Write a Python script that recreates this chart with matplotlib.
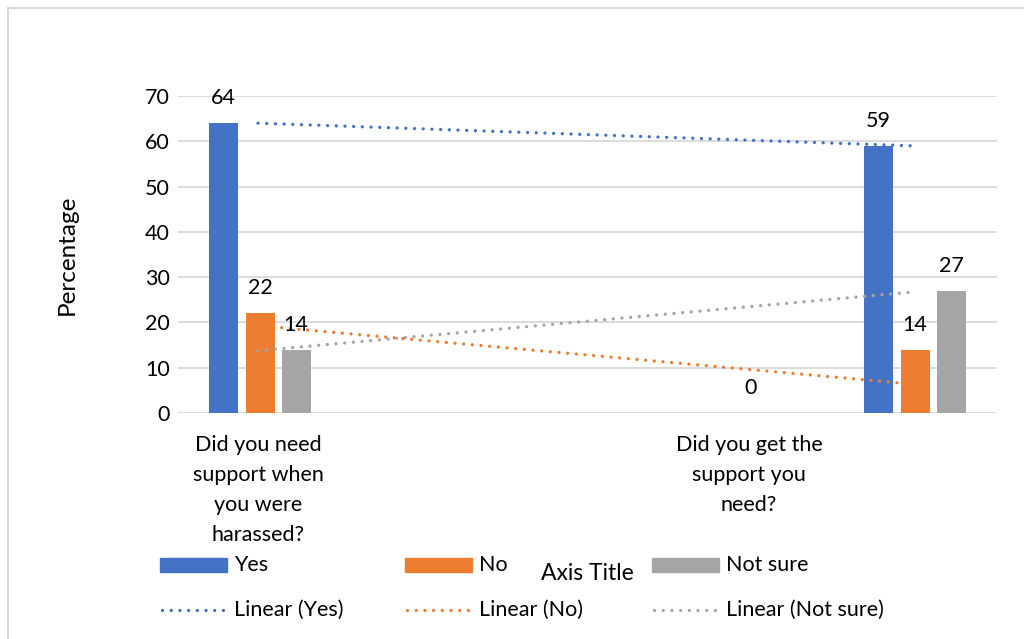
import matplotlib
matplotlib.use("Agg")
import matplotlib.pyplot as plt
from matplotlib.patches import Rectangle
from matplotlib.lines import Line2D

plt.rcParams['font.family'] = ['Lato', 'DejaVu Sans']

# ---- data ----
categories = ["Did you need\nsupport when\nyou were\nharassed?", "Did you get the\nsupport you\nneed?"]
series_names = ["Yes", "No", "Not sure"]
yes_vals = [64, 59]
no_vals = [22, 14]
notsure_vals = [14, 27]
stray_label_val = 0  # stray "0" data label shown in the chart
# trendline endpoints (start, end)
trend_yes = [64.0, 59.0]
trend_no = [19.0, 6.6]
trend_notsure = [13.75, 26.7]
yticks = [0, 10, 20, 30, 40, 50, 60, 70]

colors = ["#4472C4", "#ED7D31", "#A5A5A5"]
W, H = 1024, 639
fig = plt.figure(figsize=(W / 100, H / 100), dpi=100)

# plot area in pixels
L, R, T, B = 178, 997, 96, 413
ax = fig.add_axes([L / W, 1 - B / H, (R - L) / W, (B - T) / H])
ax.set_xlim(0, R - L)
ax.set_ylim(0, 70)

FS = 15.5
dot_ls = (0, (0.01, 2.6))
dot_lw = 2.4

# layout (pixel offsets inside plot area)
bar_w = 29
group_x = [[45, 82, 118], [700, 737, 773]]
trend_x = {"Yes": (80, 734), "No": (95, 724), "Not sure": (80, 734)}
stray_x = 573
cat_label_x = [258 - L, 749 - L]

for i, vals in enumerate([yes_vals, no_vals, notsure_vals]):
    for g in range(2):
        x = group_x[g][i]
        ax.bar(x, vals[g], width=bar_w, color=colors[i], zorder=3)
        ax.annotate(str(vals[g]), (x, vals[g]), xytext=(0, 18), textcoords="offset points",
                    ha="center", va="center", fontsize=FS, color="#000000", zorder=5)
ax.annotate(str(stray_label_val), (stray_x, stray_label_val), xytext=(0, 18),
            textcoords="offset points", ha="center", va="center", fontsize=FS, color="#000000")

for name, tv, c in zip(series_names, [trend_yes, trend_no, trend_notsure], colors):
    ax.plot(trend_x[name], tv, color=c, lw=dot_lw, linestyle=dot_ls,
            dash_capstyle="round", zorder=4)

ax.set_yticks(yticks)
ax.set_yticklabels([str(t) for t in yticks], fontsize=FS)
ax.yaxis.grid(True, color="#D9D9D9", lw=1.3, zorder=0)
ax.set_axisbelow(True)
ax.set_xticks([])
for s in ax.spines.values():
    s.set_visible(False)
ax.tick_params(axis="y", length=0, pad=6)
ax.set_ylabel("Percentage", fontsize=17.5, labelpad=48)

for cx, lab in zip(cat_label_x, categories):
    ax.text(cx, -4.9, lab, ha="center", va="top", fontsize=FS, linespacing=1.62)

# outer chart border
fig.add_artist(Line2D([8 / W, 8 / W], [0, 1 - 8 / H], color="#D9D9D9", lw=1.5))
fig.add_artist(Line2D([8 / W, 1], [1 - 8 / H, 1 - 8 / H], color="#D9D9D9", lw=1.5))

# legend (manual)
leg_x = [160, 405, 652]
row1_y, row2_y = 565, 610
for i, name in enumerate(series_names):
    x0 = leg_x[i]
    fig.add_artist(Rectangle((x0 / W, 1 - (row1_y + 7) / H), 67 / W, 14 / H,
                             color=colors[i], transform=fig.transFigure))
    fig.text((x0 + 74) / W, 1 - row1_y / H, name, fontsize=FS, va="center", ha="left")
    fig.add_artist(Line2D([(x0 + 2) / W, (x0 + 66) / W], [1 - row2_y / H] * 2, color=colors[i],
                          lw=dot_lw, linestyle=dot_ls, dash_capstyle="round"))
    fig.text((x0 + 74) / W, 1 - row2_y / H, f"Linear ({name})", fontsize=FS, va="center", ha="left")

fig.text(587 / W, 1 - 573 / H, "Axis Title", fontsize=16.5, ha="center", va="center")

fig.savefig("out.png", dpi=100, facecolor="white")
